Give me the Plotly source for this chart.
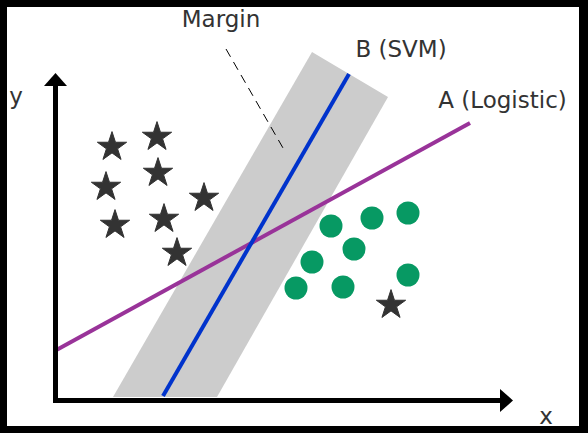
import plotly.graph_objects as go

# Data coordinates: origin at the corner of the drawn axes (units ~ pixels)
star_x = [56.5, 101.5, 102.5, 50.5, 148.5, 59.5, 108.5, 121.5, 335.5]
star_y = [253.5, 263.5, 227.5, 213.5, 202.5, 175.5, 181.5, 147.5, 95.5]

circle_x = [275.5, 316.5, 352.5, 298.5, 256.5, 240.5, 287.5, 352.5]
circle_y = [174.5, 182.5, 187.5, 151.5, 138.5, 112.5, 113.5, 125.5]

# Logistic regression boundary (A)
logit_x = [0.0, 414.5]
logit_y = [50.0, 277.5]

# SVM boundary (B)
svm_x = [107.5, 293.5]
svm_y = [4.5, 326.5]

# SVM margin band
band_x = [57.5, 161.5, 332.5, 256.5, 57.5]
band_y = [3.5, 3.5, 303.5, 348.5, 3.5]

# Pointer from "Margin" label into the band
pointer_x = [170.5, 227.5]
pointer_y = [351.5, 252.5]

# Axes with arrows
yaxis_x = [0, 0]
yaxis_y = [-2.5, 316]
xaxis_x = [-2.5, 446]
xaxis_y = [0, 0]
yhead_x = [-11.5, 11.5, 0, -11.5]
yhead_y = [314.5, 314.5, 327.5, 314.5]
xhead_x = [444.5, 444.5, 457.5, 444.5]
xhead_y = [-11.5, 11.5, 0, -11.5]

labels = ["Margin", "B (SVM)", "A (Logistic)", "y", "x"]
label_x = [165.5, 345.5, 447.0, -39.5, 490.5]
label_y = [379.0, 349.5, 298.0, 302.5, -17.5]

TEXT = "#333333"
FONT = "DejaVu Sans"

fig = go.Figure()
fig.add_trace(go.Scatter(x=band_x, y=band_y, mode="lines", fill="toself",
                         fillcolor="#cccccc", line=dict(width=0, color="#cccccc"),
                         hoverinfo="skip"))
fig.add_trace(go.Scatter(x=pointer_x, y=pointer_y, mode="lines",
                         line=dict(color="black", width=1, dash="9px,6px")))
fig.add_trace(go.Scatter(x=logit_x, y=logit_y, mode="lines",
                         line=dict(color="#993399", width=4)))
fig.add_trace(go.Scatter(x=svm_x, y=svm_y, mode="lines",
                         line=dict(color="#0033cc", width=4)))
fig.add_trace(go.Scatter(x=star_x, y=star_y, mode="markers",
                         marker=dict(symbol="star", size=22, color="#333333",
                                     line=dict(width=1, color="#333333"))))
fig.add_trace(go.Scatter(x=circle_x, y=circle_y, mode="markers",
                         marker=dict(symbol="circle", size=23, color="#079963",
                                     line=dict(width=0))))
for lx, ly in [(yaxis_x, yaxis_y), (xaxis_x, xaxis_y)]:
    fig.add_trace(go.Scatter(x=lx, y=ly, mode="lines",
                             line=dict(color="black", width=5)))
for hx, hy in [(yhead_x, yhead_y), (xhead_x, xhead_y)]:
    fig.add_trace(go.Scatter(x=hx, y=hy, mode="lines", fill="toself",
                             fillcolor="black", line=dict(color="black", width=0)))
fig.add_trace(go.Scatter(x=label_x, y=label_y, mode="text", text=labels,
                         textposition="middle center",
                         textfont=dict(family=FONT, size=23, color=TEXT),
                         cliponaxis=True))

fig.update_layout(
    width=588, height=433, autosize=False,
    margin=dict(l=7, r=9, t=7, b=7, pad=0),
    paper_bgcolor="black", plot_bgcolor="white",
    showlegend=False,
    xaxis=dict(range=[-48.5, 523.5], visible=False, fixedrange=True),
    yaxis=dict(range=[-25.5, 393.5], visible=False, fixedrange=True),
)
fig.write_html(
    "out.html",
    config={"displayModeBar": False},
    post_script="document.body.style.margin='0';document.body.style.overflow='hidden';",
)
